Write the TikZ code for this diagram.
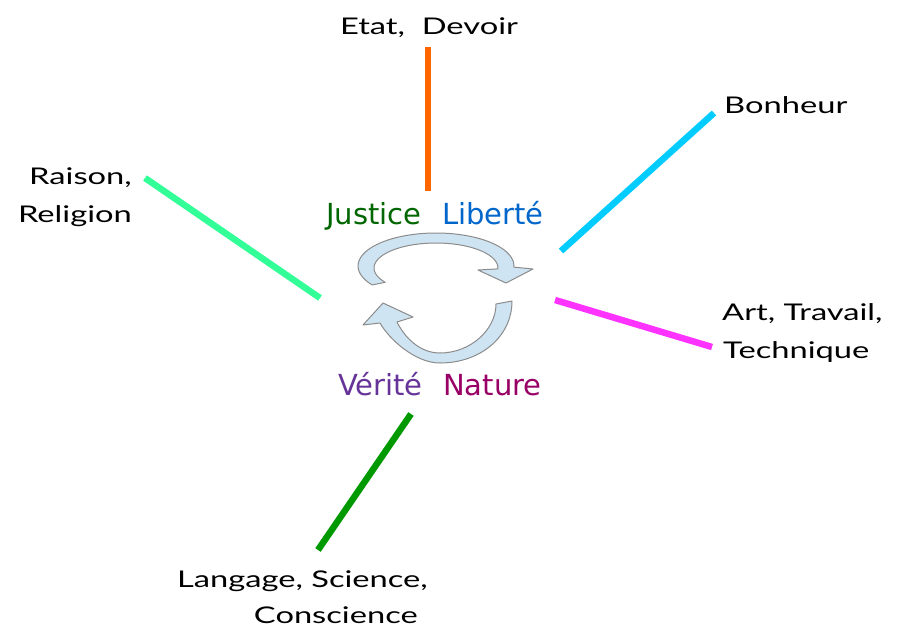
\documentclass[tikz,border=0pt]{standalone}
\usepackage{fontspec}
\newfontfamily\handfont[FakeStretch=1.42]{Lato}
\newfontfamily\centfont{DejaVu Sans}
\definecolor{cOrange}{RGB}{255,102,0}
\definecolor{cCyan}{RGB}{0,204,255}
\definecolor{cMint}{RGB}{51,255,153}
\definecolor{cMagenta}{RGB}{255,51,255}
\definecolor{cGreen}{RGB}{0,153,0}
\definecolor{cJustice}{RGB}{0,102,0}
\definecolor{cLiberte}{RGB}{0,102,204}
\definecolor{cVerite}{RGB}{102,51,153}
\definecolor{cNature}{RGB}{153,0,102}
\definecolor{cArrowFill}{RGB}{207,228,242}
\definecolor{cArrowLine}{RGB}{140,140,140}
\tikzset{
  hand/.style={font=\handfont\fontsize{23}{27}\selectfont, inner sep=0pt, text=black},
  cent/.style={font=\centfont\fontsize{29}{34}\selectfont, inner sep=0pt},
  ray/.style={line width=6.5pt},
  cyc/.style={fill=cArrowFill, draw=cArrowLine, line width=1pt, line join=round}
}
\begin{document}
\begin{tikzpicture}[x=1pt,y=-1pt]
\useasboundingbox (0,0) rectangle (897,631);
\fill[white] (0,0) rectangle (897,631);

% rays
\coordinate (oA) at (428,191); \coordinate (oB) at (428,47);
\coordinate (cA) at (561,251); \coordinate (cB) at (714,113);
\coordinate (mA) at (320,298); \coordinate (mB) at (145,178);
\coordinate (pA) at (555,300); \coordinate (pB) at (712,347);
\coordinate (gA) at (411,414); \coordinate (gB) at (318,550);
\draw[ray, cOrange] (oA) -- (oB);
\draw[ray, cCyan] (cA) -- (cB);
\draw[ray, cMint] (mA) -- (mB);
\draw[ray, cMagenta] (pA) -- (pB);
\draw[ray, cGreen] (gA) -- (gB);

% cycle arrows
\draw[cyc] plot[domain=145:362, smooth, samples=40, variable=\t] ({436+78*cos(\t)},{266+33*sin(\t)})
  -- (533,269) -- (506,283) -- (478,270)
  -- plot[domain=362:145, smooth, samples=40, variable=\t] ({436+62*cos(\t)},{268+25*sin(\t)}) -- cycle;
\draw[cyc] (512,301) .. controls (512,337) and (480,363) .. (440,363)
  .. controls (415,363) and (389,339) .. (380,323)
  -- (363,325) -- (383,303) -- (413,317) -- (397,322)
  .. controls (405,338) and (420,353) .. (440,353)
  .. controls (470,353) and (496,330) .. (496,304) -- cycle;

% central words
\node[cent, text=cJustice, anchor=base west] (justice) at (326,225) {Justice};
\node[cent, text=cLiberte, anchor=base west] (liberte) at (442,225) {Liberté};
\node[cent, text=cVerite, anchor=base west] (verite) at (338,395) {Vérité};
\node[cent, text=cNature, anchor=base west] (nature) at (443,395) {Nature};

% outer labels
\node[hand, anchor=base] (etat) at (429,35) {Etat,\ \ Devoir};
\node[hand, anchor=base west] (bonheur) at (724,114) {Bonheur};
\node[hand, anchor=base east] (raison) at (132,185) {Raison,};
\node[hand, anchor=base east] (religion) at (132,223) {Religion};
\node[hand, anchor=base west] (art) at (722,320) {Art, Travail,};
\node[hand, anchor=base west] (technique) at (723,358) {Technique};
\node[hand, anchor=base east] (langage) at (428,587) {Langage, Science,};
\node[hand, anchor=base east] (conscience) at (418,623) {Conscience};
\end{tikzpicture}
\end{document}
